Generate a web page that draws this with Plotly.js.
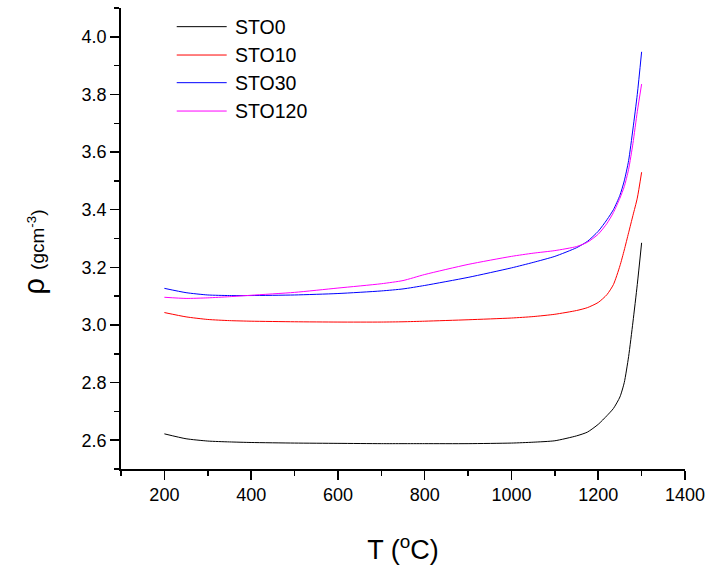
<!DOCTYPE html>
<html>
<head>
<meta charset="utf-8">
<script src="https://cdn.plot.ly/plotly-3.0.1.min.js"></script>
<style>
  html, body { margin: 0; padding: 0; background: #ffffff; }
  #chart { width: 707px; height: 569px; }
</style>
</head>
<body>
<div id="chart"></div>
<script>
// Temperature (°C)
const temperature = [200, 250, 300, 350, 400, 500, 600, 700, 750, 800, 900, 1000, 1050, 1100, 1150, 1175, 1200, 1220, 1235, 1250, 1260, 1270, 1280, 1290, 1300];

// Density ρ (g cm^-3)
const sto0   = [2.622, 2.605, 2.597, 2.594, 2.592, 2.590, 2.589, 2.588, 2.588, 2.588, 2.588, 2.590, 2.593, 2.598, 2.615, 2.628, 2.655, 2.685, 2.710, 2.750, 2.800, 2.890, 3.010, 3.140, 3.285];
const sto10  = [3.043, 3.028, 3.019, 3.015, 3.013, 3.011, 3.010, 3.010, 3.011, 3.013, 3.018, 3.024, 3.029, 3.037, 3.050, 3.060, 3.078, 3.105, 3.140, 3.205, 3.260, 3.320, 3.380, 3.440, 3.530];
const sto30  = [3.127, 3.112, 3.104, 3.102, 3.102, 3.104, 3.109, 3.118, 3.125, 3.137, 3.165, 3.198, 3.217, 3.238, 3.268, 3.290, 3.325, 3.365, 3.400, 3.450, 3.500, 3.570, 3.680, 3.800, 3.948];
const sto120 = [3.096, 3.092, 3.094, 3.098, 3.103, 3.113, 3.128, 3.143, 3.154, 3.175, 3.210, 3.238, 3.249, 3.258, 3.272, 3.287, 3.315, 3.352, 3.390, 3.440, 3.480, 3.540, 3.630, 3.740, 3.836];

const seriesNames  = ["STO0", "STO10", "STO30", "STO120"];
const seriesValues = [sto0, sto10, sto30, sto120];
const seriesColors = ["#000000", "#ff0000", "#0000ff", "#ff00ff"];

const xTickVals = [200, 400, 600, 800, 1000, 1200, 1400];
const yTickVals = [2.6, 2.8, 3.0, 3.2, 3.4, 3.6, 3.8, 4.0];

const FONT = "Liberation Sans, Arial, Helvetica, sans-serif";

const traces = seriesNames.map((name, i) => ({
  type: "scatter",
  mode: "lines",
  name: name,
  x: temperature,
  y: seriesValues[i],
  line: { color: seriesColors[i], width: 1, shape: "spline", smoothing: 0.6 },
  showlegend: false,
  hoverinfo: "x+y+name"
}));

// Custom legend (matches the reference's long legend lines)
const legRowsY = [0.9595, 0.898, 0.838, 0.7765];
const shapes = [];
const annotations = [];
seriesNames.forEach((name, i) => {
  shapes.push({
    type: "line", xref: "paper", yref: "paper",
    x0: 0.0988, x1: 0.1874, y0: legRowsY[i], y1: legRowsY[i],
    line: { color: seriesColors[i], width: 1 }
  });
  annotations.push({
    xref: "paper", yref: "paper", x: 0.199, y: legRowsY[i],
    xanchor: "left", yanchor: "middle", showarrow: false,
    text: name, font: { family: FONT, size: 19.5, color: "#000000" }
  });
});

// Y-axis title (placed as in the reference, slightly below the plot centre)
annotations.push({
  xref: "paper", yref: "paper", x: -0.154, y: 0.47,
  xanchor: "center", yanchor: "middle", showarrow: false, textangle: -90,
  text: "ρ <span style='font-size:19px'>(gcm<sup>-3</sup>)</span>",
  font: { family: FONT, size: 29, color: "#000000" }
});

const axisCommon = {
  showline: true, linecolor: "#000000", linewidth: 1.8,
  showgrid: false, zeroline: false, mirror: false,
  ticks: "outside", ticklen: 9, tickwidth: 1.5, tickcolor: "#000000",
  tickfont: { family: FONT, size: 18, color: "#000000" },
  minor: { ticks: "outside", ticklen: 5, tickwidth: 1.5, tickcolor: "#000000" }
};

const layout = {
  width: 707, height: 569,
  margin: { l: 121, r: 22, t: 8, b: 100 },
  paper_bgcolor: "#ffffff", plot_bgcolor: "#ffffff",
  font: { family: FONT, color: "#000000" },
  showlegend: false,
  xaxis: Object.assign({}, axisCommon, {
    range: [100, 1400], tickvals: xTickVals,
    minor: Object.assign({}, axisCommon.minor, { dtick: 100, tick0: 0 }),
    title: { text: "T (<sup>o</sup>C)", font: { family: FONT, size: 27, color: "#000000" }, standoff: 36 },
    automargin: false
  }),
  yaxis: Object.assign({}, axisCommon, {
    range: [2.5, 4.1], tickvals: yTickVals, tickformat: ".1f",
    minor: Object.assign({}, axisCommon.minor, { dtick: 0.1, tick0: 0 }),
    automargin: false
  }),
  shapes: shapes,
  annotations: annotations
};

Plotly.newPlot("chart", traces, layout, { displayModeBar: false, staticPlot: true });
</script>
</body>
</html>
